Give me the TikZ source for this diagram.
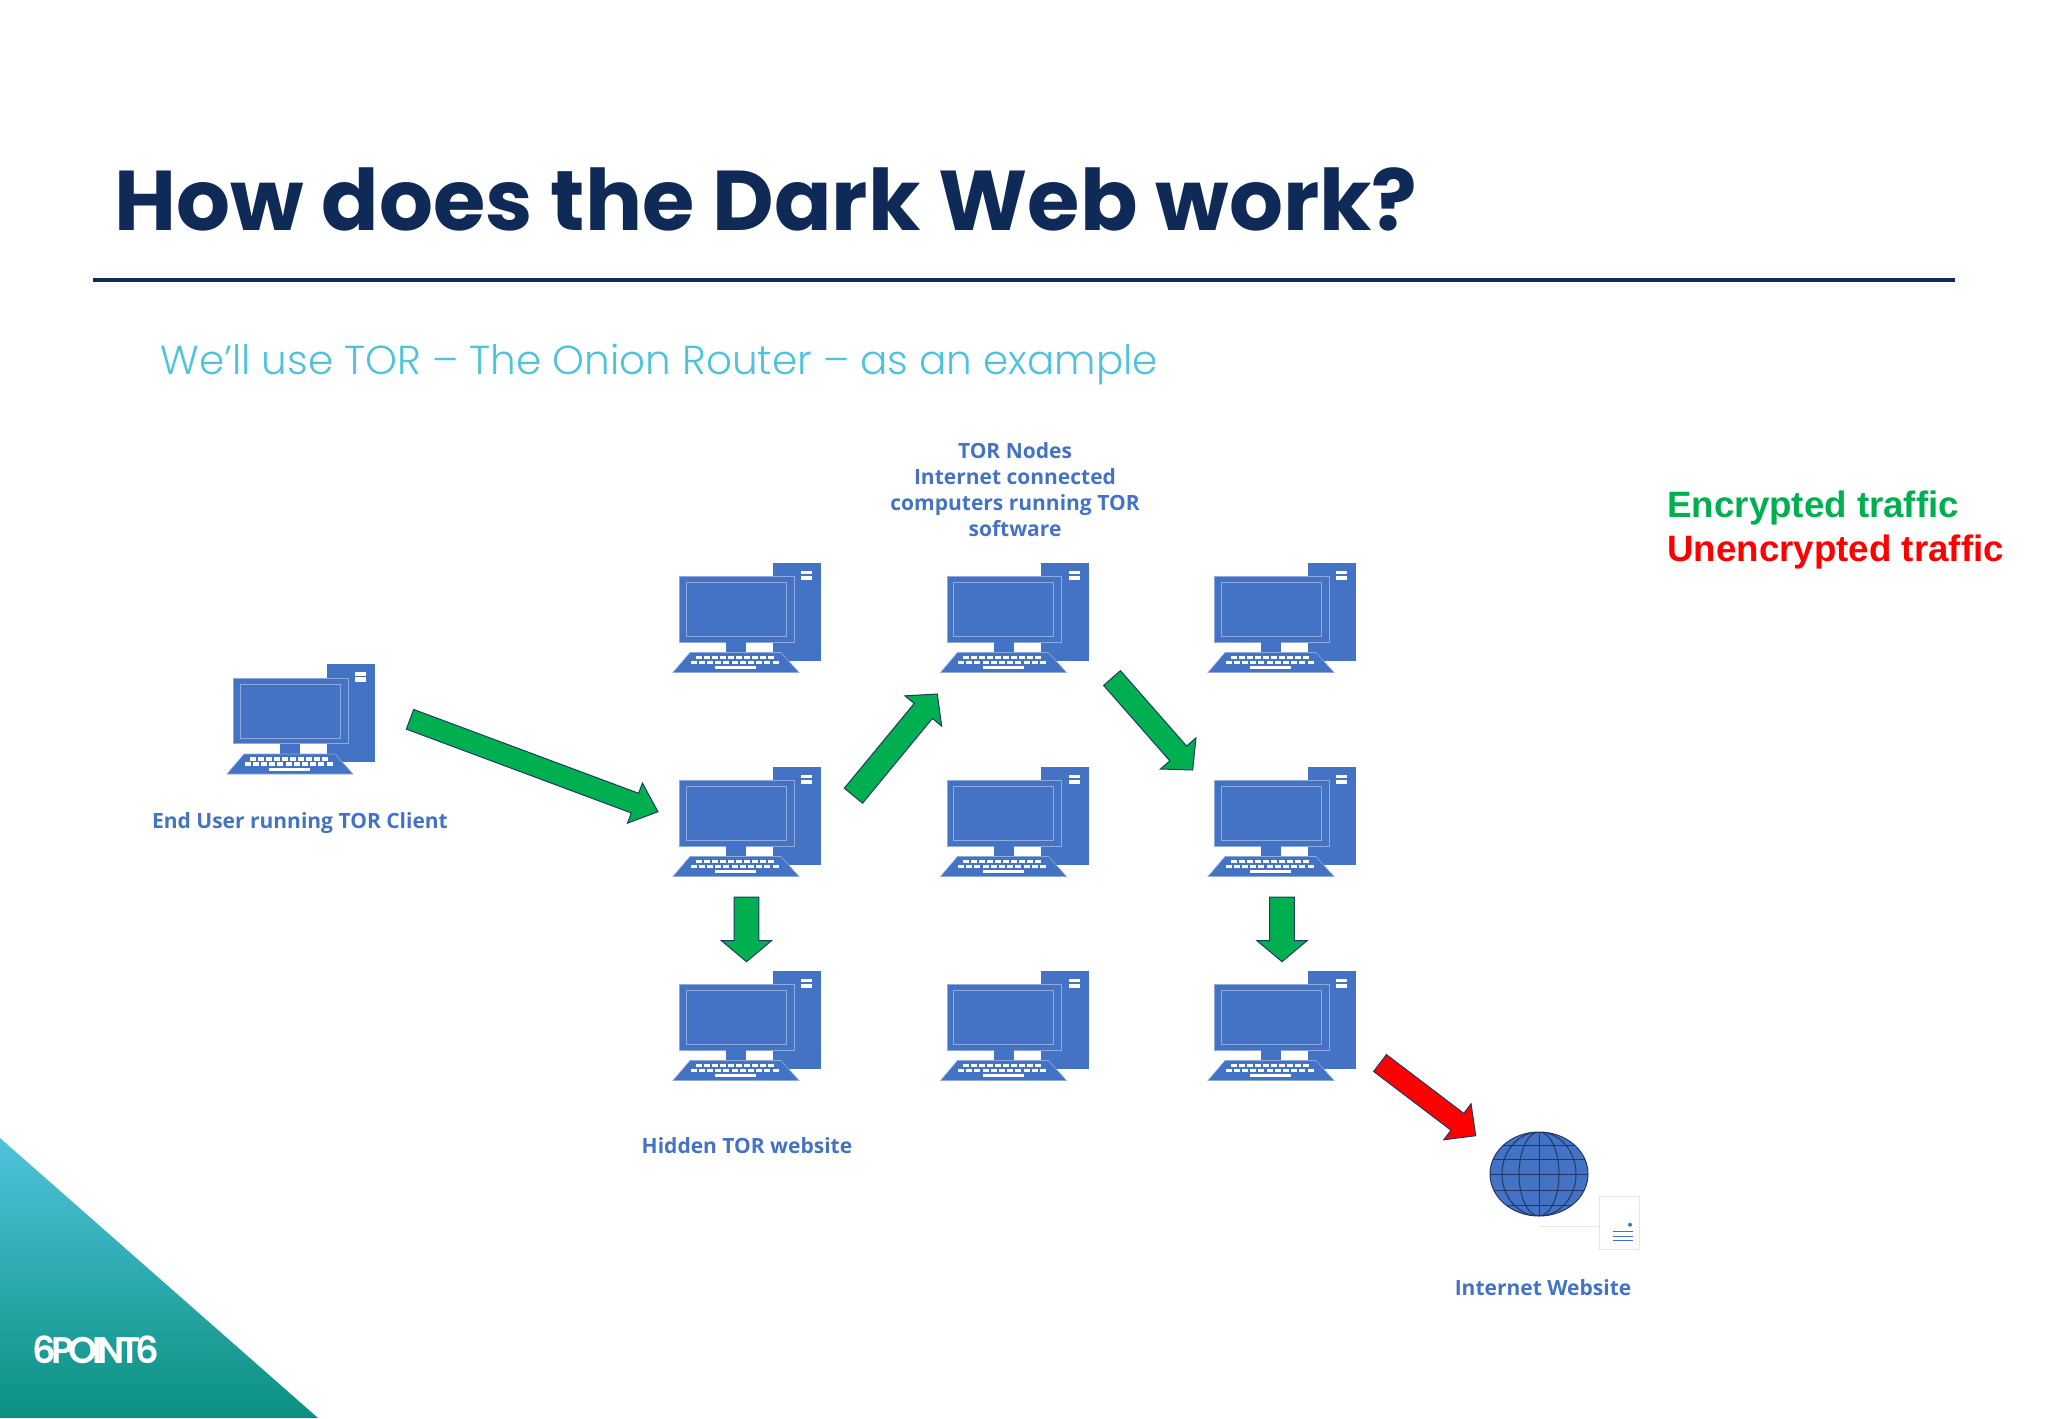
\documentclass[tikz,border=0pt]{standalone}
\usepackage{fontspec}
\usepackage{xcolor}
\setmainfont{Open Sans}
\newfontfamily\titlefont{Poppins}
\newfontfamily\subtitlefont{Poppins Light}
\newfontfamily\logofont[LetterSpace=-14]{Poppins SemiBold}
\newfontfamily\legendfont{Liberation Sans}
\usetikzlibrary{shapes.geometric, positioning, calc}
\definecolor{navy}{HTML}{0F2A56}
\definecolor{aqua}{HTML}{4FC3DC}
\definecolor{teal6}{HTML}{0B9080}
\definecolor{iconblue}{HTML}{4472C4}
\definecolor{iconedge}{HTML}{8FAADC}
\definecolor{globeedge}{HTML}{203864}
\definecolor{greenfill}{HTML}{00B050}
\definecolor{redfill}{HTML}{FF0000}
\definecolor{paleedge}{HTML}{E4E6EC}
\newcommand{\blockarrow}[6][greenarrow]{
    \coordinate (hb) at ($(#3)!#6!(#2)$);
    \draw[#1] ($(#2)!#4!90:(#3)$) -- ($(hb)!#4!90:(#3)$) -- ($(hb)!#5!90:(#3)$) -- (#3)
        -- ($(hb)!#5!-90:(#3)$) -- ($(hb)!#4!-90:(#3)$) -- ($(#2)!#4!-90:(#3)$) -- cycle;
}

\begin{document}
\begin{tikzpicture}[
        x=0.5pt, y=-0.5pt,
        label/.style={text=iconblue, align=center, font=\fontsize{10.5}{13}\selectfont\bfseries},
        legend/.style={anchor=base west, inner sep=0pt, font=\fontsize{18.35}{22}\selectfont\legendfont\bfseries},
        greenarrow/.style={draw=globeedge, line width=0.5pt, fill=greenfill, line join=miter},
        redarrow/.style={greenarrow, fill=redfill},
        computer/.pic={
            \fill[iconblue] (-48,0) rectangle (0,98);
            \fill[white] (-20,8) rectangle (-9,11.7);
            \fill[white] (-20,13.3) rectangle (-9,17.7);
            \draw[iconedge, fill=iconblue, line width=0.5pt] (-141.5,14) rectangle (-27,79.5);
            \draw[iconedge, line width=0.5pt] (-135,20) rectangle (-35,74);
            \fill[iconblue] (-95,79.5) rectangle (-75,91);
            \draw[iconedge, fill=iconblue, line width=0.3pt] (-131,90) -- (-40,90) -- (-22,110) -- (-148,110) -- cycle;
            \foreach \k in {0,...,9} \fill[white] (-125.5+8*\k,93) rectangle ++(6,3.5);
            \foreach \k in {0,...,10} \fill[white] (-130.5+8.2*\k,98.4) rectangle ++(6,3.5);
            \fill[white] (-106,103.7) rectangle (-65,106.5);
        },
        node distance=102pt and 133.75pt
    ]
    \useasboundingbox (0,0) rectangle (2048,1418);

    \node[anchor=base west, inner sep=0pt, text=navy, font=\fontsize{42.4}{50}\selectfont\titlefont\bfseries] (title) at (114,230) {How does the Dark Web work?};
    \coordinate (ruleleft) at (93,280);
    \coordinate (ruleright) at (1955,280);
    \draw[navy, line width=1.6pt] (ruleleft) -- (ruleright);
    \node[anchor=base west, inner sep=0pt, text=aqua, font=\fontsize{20.25}{24}\selectfont\subtitlefont] (subtitle) at (160,374) {We’ll use TOR – The Onion Router – as an example};

    \coordinate (client) at (375,664);
    \coordinate (n11) at (821,562.5);
    \coordinate[right=of n11] (n12);
    \coordinate[right=of n12] (n13);
    \coordinate[below=of n11] (n21);
    \coordinate[right=of n21] (n22);
    \coordinate[right=of n22] (n23);
    \coordinate[below=of n21] (n31);
    \coordinate[right=of n31] (n32);
    \coordinate[right=of n32] (n33);
    \foreach \n in {client,n11,n12,n13,n21,n22,n23,n31,n32,n33}
        \pic at (\n) {computer};

    \node[label] (tornodes) at (1015,490) {TOR Nodes\\Internet connected\\computers running TOR\\software};
    \node[label] (clientlabel) at (300,823) {End User running TOR Client};
    \node[label] (hiddenlabel) at (747,1146) {Hidden TOR website};
    \node[label] (sitelabel) at (1543,1288) {Internet Website};

    \node[legend, text=greenfill] (encrypted) at (1667,517) {Encrypted traffic};
    \node[legend, text=redfill] (unencrypted) at (1667,561) {Unencrypted traffic};

    \draw[globeedge, fill=iconblue, line width=0.5pt] (1539,1174) ellipse [x radius=49, y radius=42];
    \begin{scope}
        \clip (1539,1174) ellipse [x radius=49, y radius=42];
        \foreach \r in {37,20}
            \draw[globeedge, line width=0.5pt] (1539,1174) ellipse [x radius=\r, y radius=42];
        \draw[globeedge, line width=0.5pt] (1539,1130) -- (1539,1218);
        \foreach \d in {-29,-14.5,0,16,31}
            \draw[globeedge, line width=0.5pt] (1480,1174+\d) -- (1600,1174+\d);
    \end{scope}
    \node[draw=paleedge, line width=0.5pt, minimum width=20pt, minimum height=26.5pt, inner sep=0pt] (page) at (1619,1222.5) {};
    \coordinate (globefoot) at (1539,1226.7);
    \draw[paleedge, line width=0.5pt] (globefoot) -- (globefoot -| page.west);
    \fill[iconblue] (1630,1224.7) circle (2);
    \foreach \d in {1231.7,1236,1240}
        \draw[iconblue, line width=0.4pt] (1613,\d) -- (1633,\d);

    \coordinate (clientout) at (410,719.3);
    \coordinate (n21in) at (658,811.7);
    \coordinate (n21out) at (853.4,795.7);
    \coordinate (n12in) at (937.3,694);
    \coordinate (n12out) at (1112,678);
    \coordinate (n23in) at (1192.7,770);
    \coordinate (n21down) at (746.5,897);
    \coordinate (n31in) at (746.5,961.7);
    \coordinate (n23down) at (1282,897);
    \coordinate (n33in) at (1282,961.7);
    \coordinate (n33out) at (1380,1063);
    \coordinate (globein) at (1475.7,1135.7);
    \blockarrow{clientout}{n21in}{5.25pt}{10.7pt}{12.3pt}
    \blockarrow{n21out}{n12in}{5.9pt}{11.9pt}{11pt}
    \blockarrow{n12out}{n23in}{5.6pt}{11.8pt}{11pt}
    \blockarrow{n21down}{n31in}{6.15pt}{12.5pt}{10.5pt}
    \blockarrow{n23down}{n33in}{6.15pt}{12.5pt}{10.5pt}
    \blockarrow[redarrow]{n33out}{globein}{5.3pt}{11.3pt}{11.5pt}

    \shade[top color=aqua, bottom color=teal6] (0,1138) -- (318,1418) -- (0,1418) -- cycle;
    \node[inner sep=0pt, text=white, font=\fontsize{18.5}{20}\selectfont\logofont] (logo) at (96,1350) {6POINT6};
\end{tikzpicture}
\end{document}
